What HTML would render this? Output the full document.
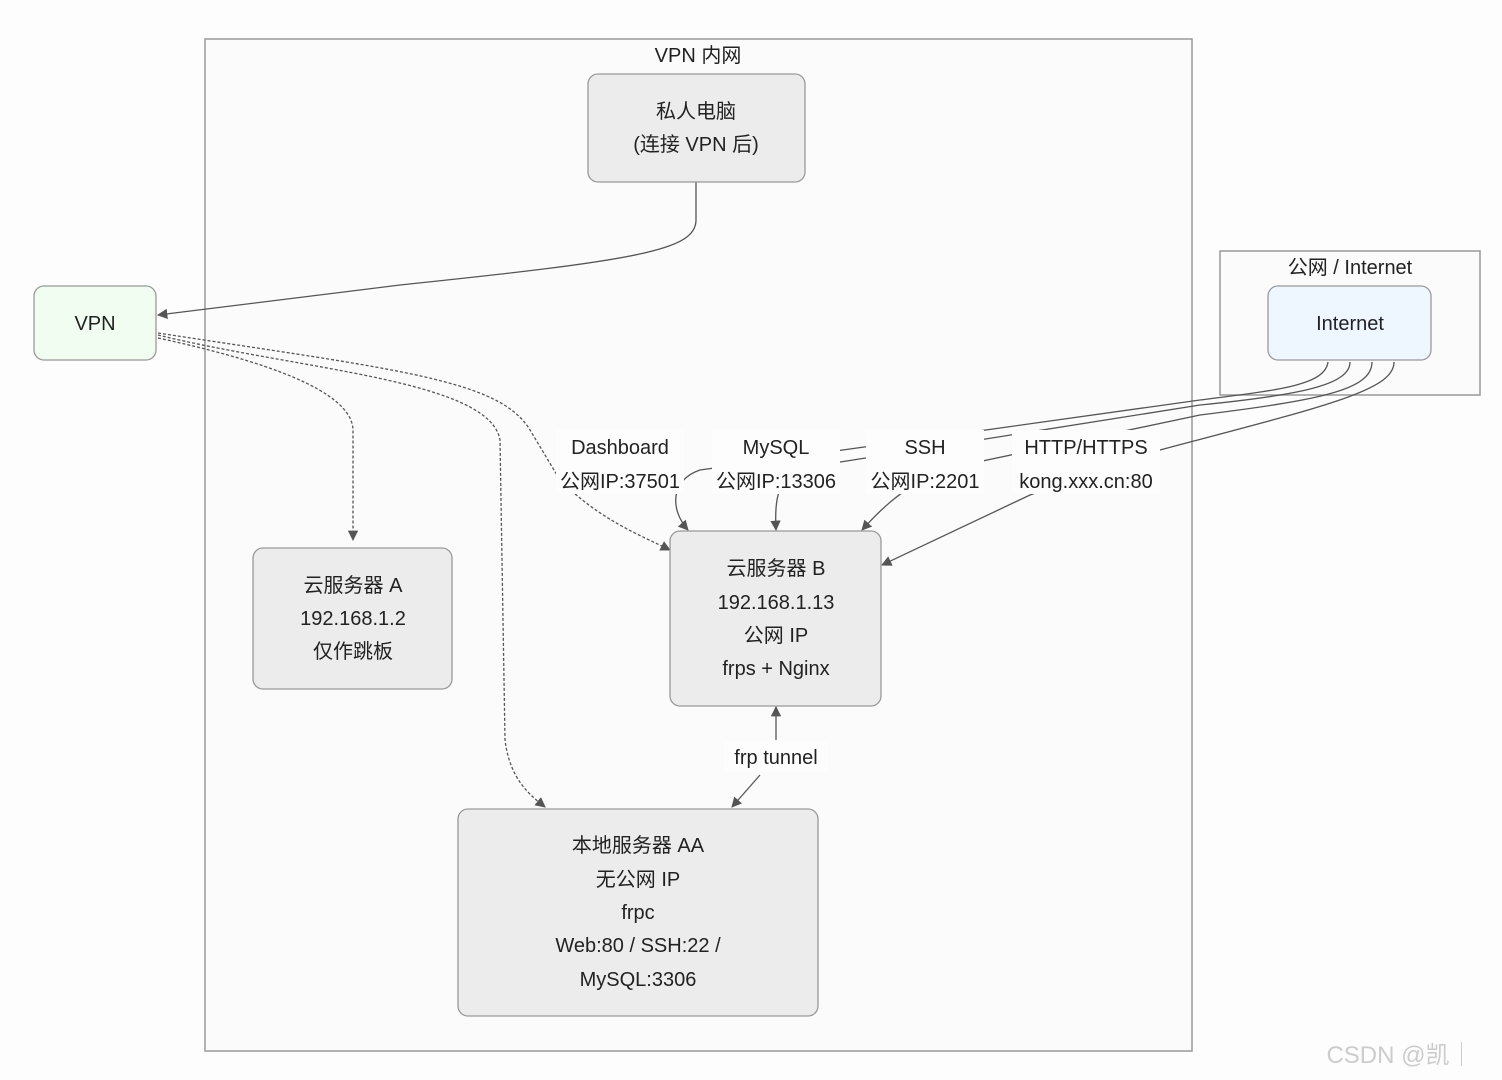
<!DOCTYPE html>
<html><head><meta charset="utf-8"><style>
body{margin:0;background:#fdfdfd;}
svg{display:block;font-family:"Liberation Sans","Noto Sans CJK SC",sans-serif;}
text{font-size:20px;fill:#222;text-anchor:middle;}
</style></head><body>
<svg width="1502" height="1080" viewBox="0 0 1502 1080">
<defs><marker id="a" viewBox="0 0 10 10" refX="9" refY="5" markerWidth="8" markerHeight="8" orient="auto"><path d="M0,0L10,5L0,10z" fill="#555"/></marker></defs>
<rect x="205" y="39" width="987" height="1012" fill="#fbfbfb" stroke="#999" stroke-width="1.5"/>
<text x="698" y="62">VPN 内网</text>
<rect x="1220" y="251" width="260" height="144" fill="#fbfbfb" stroke="#999" stroke-width="1.5"/>
<text x="1350" y="274">公网 / Internet</text>
<g fill="none" stroke="#555" stroke-width="1.3">
<path d="M696,182 L696,220 C696,250 640,260 400,285 L158,315" marker-end="url(#a)"/>
<g stroke-dasharray="3,2">
<path d="M158,338 C260,360 352,390 353,430 L353,540" marker-end="url(#a)"/>
<path d="M158,335 C300,370 490,380 500,440 L505,740 C510,780 530,795 545,807" marker-end="url(#a)"/>
<path d="M158,333 C400,370 500,380 530,430 L560,480 C600,520 640,535 670,550" marker-end="url(#a)"/>
</g>
<path d="M1328,362 C1325,385 1280,390 1200,400 L700,470 C670,480 670,510 688,530" marker-end="url(#a)"/>
<path d="M1350,362 C1350,385 1300,395 1200,405 L790,470 C775,490 775,510 776,530" marker-end="url(#a)"/>
<path d="M1372,362 C1372,390 1320,400 1200,415 L940,470 C900,490 880,510 862,530" marker-end="url(#a)"/>
<path d="M1394,362 C1394,390 1330,405 1160,450 L1030,495 L882,565" marker-end="url(#a)"/>
<path d="M776,740 L776,707" marker-end="url(#a)"/>
<path d="M760,775 L732,807" marker-end="url(#a)"/>
</g>
<g fill="#fdfdfd">
<rect x="556" y="430" width="128" height="64"/><rect x="712" y="430" width="128" height="64"/>
<rect x="866" y="430" width="118" height="64"/><rect x="1012" y="430" width="148" height="64"/>
<rect x="724" y="742" width="104" height="30"/>
</g>
<text x="620" y="454">Dashboard</text><text x="620" y="488">公网IP:37501</text>
<text x="776" y="454">MySQL</text><text x="776" y="488">公网IP:13306</text>
<text x="925" y="454">SSH</text><text x="925" y="488">公网IP:2201</text>
<text x="1086" y="454">HTTP/HTTPS</text><text x="1086" y="488">kong.xxx.cn:80</text>
<text x="776" y="764">frp tunnel</text>
<g stroke="#999" stroke-width="1.3">
<rect x="588" y="74" width="217" height="108" rx="10" fill="#ececec"/>
<rect x="34" y="286" width="122" height="74" rx="10" fill="#f0fdf0"/>
<rect x="1268" y="286" width="163" height="74" rx="10" fill="#eef6ff"/>
<rect x="253" y="548" width="199" height="141" rx="10" fill="#ececec"/>
<rect x="670" y="531" width="211" height="175" rx="10" fill="#ececec"/>
<rect x="458" y="809" width="360" height="207" rx="10" fill="#ececec"/>
</g>
<text x="696" y="118">私人电脑</text><text x="696" y="151">(连接 VPN 后)</text>
<text x="95" y="330">VPN</text>
<text x="1350" y="330">Internet</text>
<text x="353" y="592">云服务器 A</text><text x="353" y="625">192.168.1.2</text><text x="353" y="658">仅作跳板</text>
<text x="776" y="575">云服务器 B</text><text x="776" y="609">192.168.1.13</text><text x="776" y="642">公网 IP</text><text x="776" y="675">frps + Nginx</text>
<text x="638" y="852">本地服务器 AA</text><text x="638" y="886">无公网 IP</text><text x="638" y="919">frpc</text><text x="638" y="952">Web:80 / SSH:22 /</text><text x="638" y="986">MySQL:3306</text>
<text x="1400" y="1063" style="font-size:24px;fill:#ccc">CSDN @凯｜</text>
</svg>
</body></html>
